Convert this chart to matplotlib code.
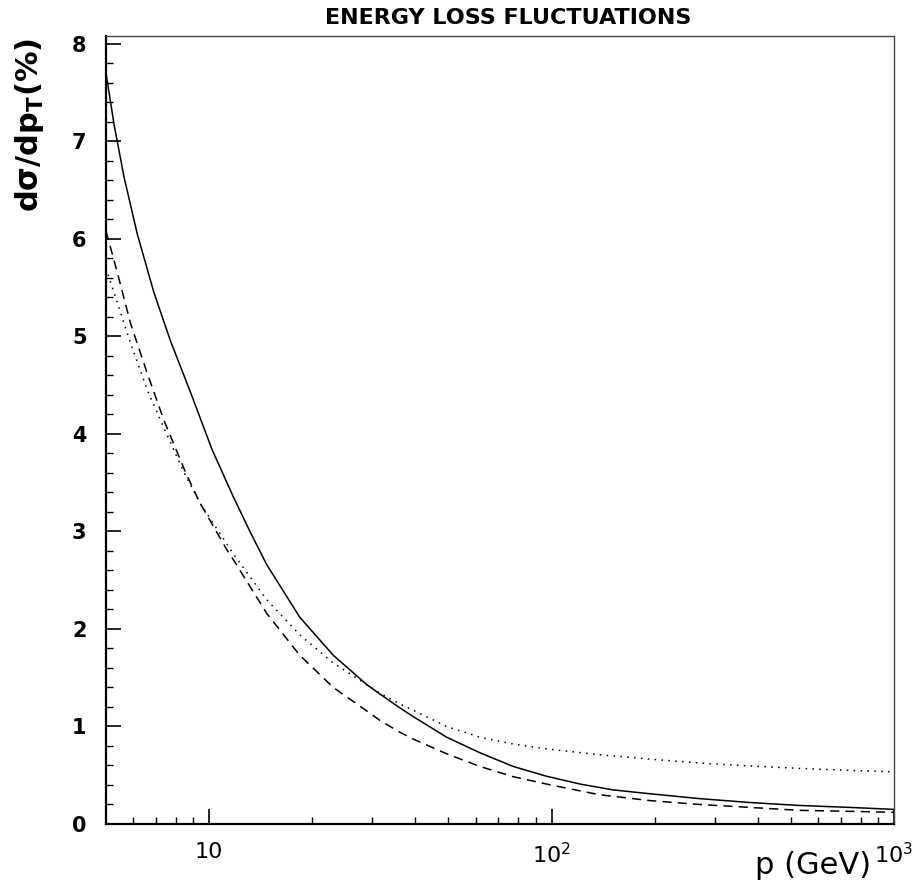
# -*- coding: utf-8 -*-
import matplotlib
matplotlib.use("Agg")
import matplotlib.pyplot as plt
from matplotlib.ticker import FixedLocator, NullFormatter, MultipleLocator

plt.rcParams['font.family'] = ['DejaVu Sans']
plt.rcParams['mathtext.default'] = 'regular'

# momentum (GeV) and fluctuation values
p_solid = [5.0, 5.28, 5.64, 6.17, 6.90, 7.72, 8.84, 10.2, 11.75, 13.2, 14.73,
           18.4, 23.05, 28.85, 31.6, 36.1, 39.5, 49.4, 61.8, 77.3, 96.6,
           121, 151, 194, 271, 380, 531, 743, 1000]
y_solid = [7.70, 7.17, 6.64, 6.05, 5.45, 4.95, 4.42, 3.84, 3.36, 2.99, 2.66,
           2.12, 1.73, 1.43, 1.33, 1.19, 1.10, 0.89, 0.73, 0.59, 0.49,
           0.41, 0.35, 0.31, 0.26, 0.22, 0.19, 0.17, 0.15]

p_dash = [5.0, 5.10, 5.40, 5.90, 6.60, 7.38, 8.55, 9.41, 11.28, 11.77, 14.73,
          18.4, 23.05, 28.85, 31.6, 36.1, 39.5, 49.4, 61.8, 77.3, 96.6,
          121, 138, 194, 271, 380, 531, 743, 1000]
y_dash = [6.08, 5.97, 5.65, 5.13, 4.62, 4.14, 3.60, 3.29, 2.81, 2.71, 2.16,
          1.73, 1.40, 1.16, 1.06, 0.94, 0.87, 0.72, 0.59, 0.485, 0.41,
          0.34, 0.30, 0.24, 0.20, 0.17, 0.14, 0.13, 0.12]

p_dot = [5.0, 5.40, 5.90, 6.60, 7.38, 8.46, 9.41, 11.77, 14.73, 18.4, 23.05,
         28.85, 31.6, 36.1, 39.5, 49.4, 61.8, 77.3, 96.6, 138, 194, 271,
         380, 531, 743, 1000]
y_dot = [5.70, 5.34, 4.93, 4.45, 4.06, 3.60, 3.29, 2.77, 2.30, 1.94, 1.65,
         1.43, 1.34, 1.23, 1.165, 1.00, 0.89, 0.82, 0.77, 0.71, 0.665, 0.625,
         0.595, 0.57, 0.55, 0.535]

x_major = [10, 100, 1000]
x_major_labels = ['10', '$10^{2}$', '$10^{3}$']

fig = plt.figure(figsize=(9.22, 8.89), dpi=100)
ax = fig.add_axes([106 / 922, 1 - 824 / 889, 788 / 922, 788 / 889])

ax.plot(p_solid, y_solid, color='black', lw=1.1, ls='-')
ax.plot(p_dash, y_dash, color='black', lw=1.1, ls=(0, (6, 4)))
ax.plot(p_dot, y_dot, color='black', lw=1.1, ls=(0, (1, 3.5)))

ax.set_xscale('log')
ax.set_xlim(5, 1000)
ax.set_ylim(0, 8.08)

ax.xaxis.set_major_locator(FixedLocator(x_major))
ax.set_xticklabels(x_major_labels)
ax.xaxis.set_minor_locator(FixedLocator([6, 7, 8, 9, 20, 30, 40, 50, 60, 70, 80, 90,
                                         200, 300, 400, 500, 600, 700, 800, 900]))
ax.xaxis.set_minor_formatter(NullFormatter())
ax.yaxis.set_major_locator(MultipleLocator(1))
ax.yaxis.set_minor_locator(MultipleLocator(0.2))

ax.tick_params(which='both', direction='in', top=False, right=False, color='black')
ax.tick_params(which='major', length=10.5, width=1.2)
ax.tick_params(which='minor', length=5, width=1.0)
ax.tick_params(axis='y', which='major', labelsize=15, pad=14)
ax.tick_params(axis='x', which='major', labelsize=16, pad=13)
for lab in ax.get_yticklabels():
    lab.set_fontweight('bold')

ax.spines['left'].set_linewidth(1.6)
ax.spines['bottom'].set_linewidth(1.6)
ax.spines['top'].set_linewidth(1.0)
ax.spines['right'].set_linewidth(1.0)
ax.spines['top'].set_color('#444444')
ax.spines['right'].set_color('#444444')

fig.text(508 / 922, 1 - 18 / 889, 'ENERGY LOSS FLUCTUATIONS', ha='center', va='center',
         fontsize=16, fontweight='bold')
fig.text(30 / 922, 1 - 38 / 889, r'd$\sigma$/dp$_{T}$(%)', rotation=90, ha='center', va='top',
         fontsize=22, fontweight='bold')
fig.text(871 / 922, 1 - 866 / 889, 'p (GeV)', ha='right', va='center', fontsize=22)

fig.savefig('out.png', dpi=100)
